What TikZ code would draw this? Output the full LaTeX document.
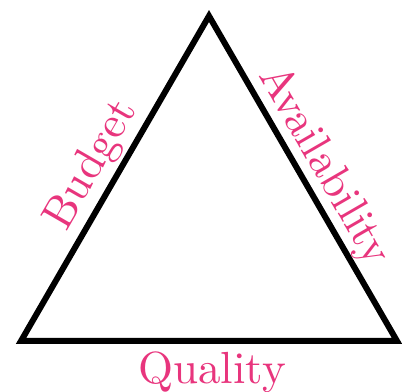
\documentclass[tikz,border=0pt]{standalone}
\usepackage{fontspec}
\newfontfamily\trfont{lmroman10-regular}[Extension=.otf]
\usepackage{tikz}
\usetikzlibrary{positioning}
\definecolor{trline}{HTML}{000000}
\definecolor{trlabel}{HTML}{E8357D}

\begin{document}
\begin{tikzpicture}[
  x=0.025cm, y=-0.025cm,
  edge/.style={draw=trline, line width=0.15cm},
  lbl/.style={text=trlabel, font=\trfont\fontsize{32}{38}\selectfont, inner sep=#1},
  lbl/.default=0.15cm,
]
  \useasboundingbox (0,0) rectangle (402,392);

  \coordinate (bl)  at (21,341);
  \coordinate (br)  at (397,341);
  \coordinate (top) at (209,16);

  \draw[edge] (bl) -- (top) -- (br) -- cycle;

  \path (bl) -- node[lbl=0.15cm, sloped, above] (budget) {Budget} (top);
  \path (top) -- node[lbl=0.08cm, sloped, above] (avail) {Availability} (br);
  \path (bl) -- node[lbl=0.25cm, below, xshift=0.08cm] (quality) {Quality} (br);
\end{tikzpicture}
\end{document}
